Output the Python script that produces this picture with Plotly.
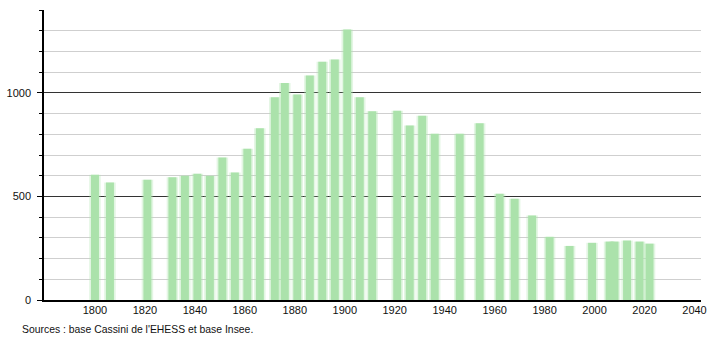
import plotly.graph_objects as go

years = [1800, 1806, 1821, 1831, 1836, 1841, 1846, 1851, 1856, 1861, 1866,
         1872, 1876, 1881, 1886, 1891, 1896, 1901, 1906, 1911, 1921, 1926,
         1931, 1936, 1946, 1954, 1962, 1968, 1975, 1982, 1990, 1999, 2006,
         2008, 2013, 2018, 2022]
population = [605, 567, 580, 592, 600, 609, 600, 688, 616, 730, 829,
              979, 1047, 992, 1084, 1150, 1161, 1306, 979, 911, 914, 843,
              890, 803, 803, 853, 513, 489, 408, 305, 261, 276, 282,
              282, 287, 282, 272]

y_major = [0, 500, 1000]
x_ticks = list(range(1800, 2041, 20))
source_text = "Sources : base Cassini de l'EHESS et base Insee."

fig = go.Figure()
# soft halo to mimic the blurred bar edges
fig.add_trace(go.Bar(x=years, y=population, width=4.6,
                     marker=dict(color="rgba(175,228,175,0.35)", line=dict(width=0)),
                     hoverinfo="skip", showlegend=False))
fig.add_trace(go.Bar(x=years, y=population, width=3.2,
                     marker=dict(color="#abe2ab", line=dict(width=0)),
                     showlegend=False))

fig.update_layout(
    width=710, height=340,
    margin=dict(l=44, r=9, t=10, b=40, autoexpand=False),
    paper_bgcolor="white", plot_bgcolor="white",
    barmode="overlay",
    font=dict(family="Liberation Sans, Arial, sans-serif", size=11, color="#111"),
    xaxis=dict(range=[1779.6, 2042.6], tickvals=x_ticks, ticks="",
               showgrid=False, zeroline=False, showline=True, automargin=False,
               linecolor="black", linewidth=1.5, ticklabelstandoff=-1),
    yaxis=dict(range=[0, 1400], tickvals=y_major, ticks="outside", ticklen=5,
               tickcolor="black", showgrid=True, gridcolor="#333", gridwidth=1,
               zeroline=False, showline=True, linecolor="black", linewidth=1.5,
               ticklabelstandoff=4, automargin=False,
               minor=dict(dtick=100, tick0=0, showgrid=True, gridcolor="#cfcfcf",
                          gridwidth=1, ticks="outside", ticklen=3, tickcolor="black")),
    annotations=[dict(text=source_text, xref="paper", yref="paper",
                      x=-24/657, y=-29/290, xanchor="left", yanchor="middle",
                      showarrow=False, font=dict(size=10.4, color="#111"))],
)

fig.write_html("out.html")
